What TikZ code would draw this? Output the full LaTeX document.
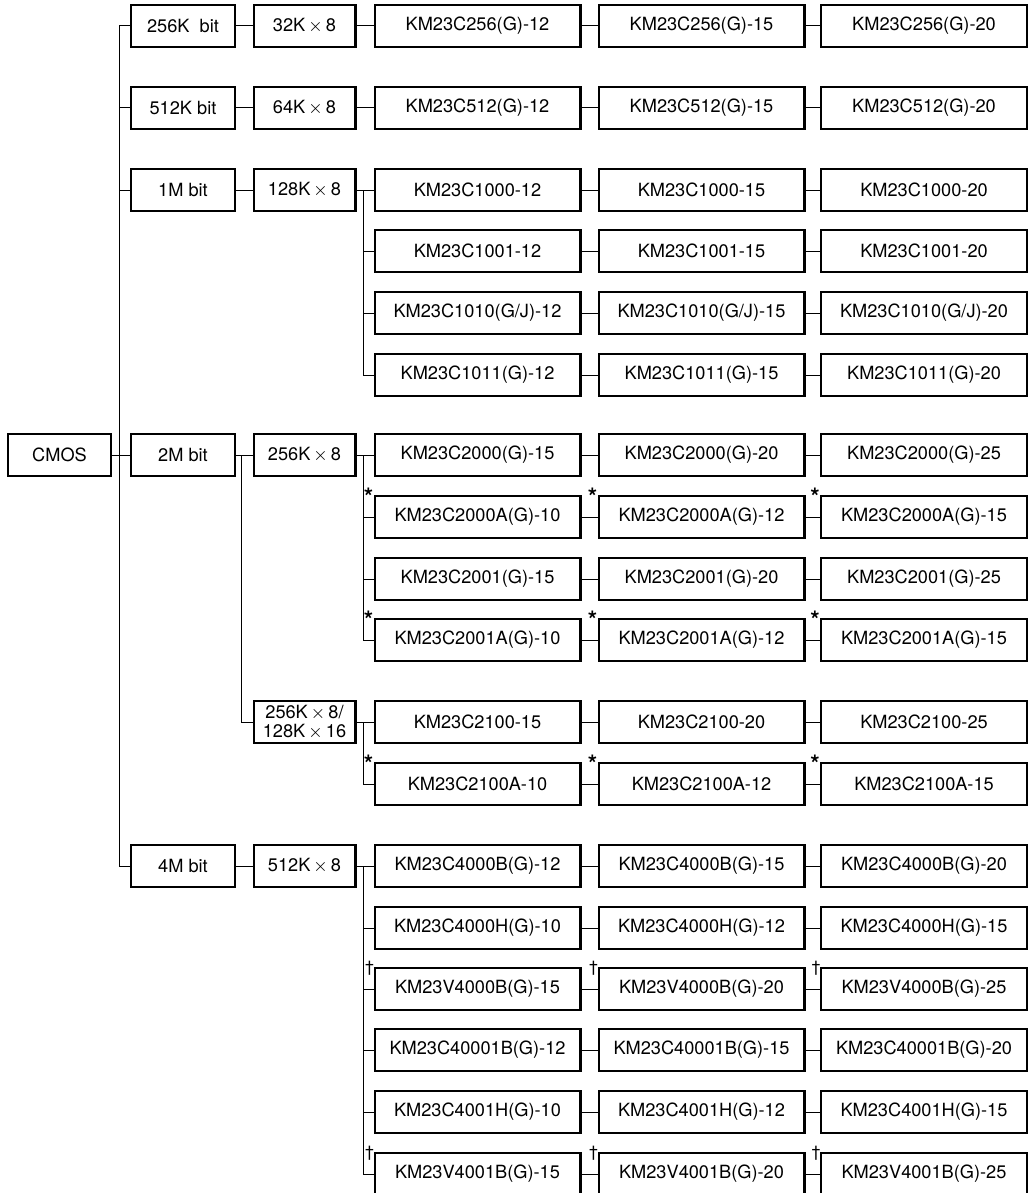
\documentclass[tikz,border=0pt]{standalone}
\usepackage{fontspec}
\setmainfont{TeX Gyre Heros}
\usepackage{tikz}

\tikzset{
  box/.style={draw, line width=1.2pt, inner sep=0pt, minimum height=20.8pt,
              font=\fontsize{9.1}{8}\selectfont, align=center},
  top/.style={box, minimum width=51.3pt},
  dens/.style={box, minimum width=51.8pt},
  org/.style={box, minimum width=50.8pt},
  part/.style={box, minimum width=102.8pt},
  note/.style={anchor=base, inner sep=0pt, font=\fontsize{8}{8}\selectfont},
  wire/.style={line width=0.5pt}
}
\newcommand{\by}{$\,\times\,$}

\begin{document}
\begin{tikzpicture}[x=0.5pt, y=-0.5pt]

\useasboundingbox (0,0) rectangle (1030,1193);

\node[top]  (cmos) at (59.5,455) {CMOS};

\node[dens] (d1) at (183,26)  {256K~~bit};
\node[dens] (d2) at (183,108) {512K bit};
\node[dens] (d3) at (183,190) {1M bit};
\node[dens] (d4) at (183,455) {2M bit};
\node[dens] (d5) at (183,866) {4M bit};

\node[org] (o1) at (304.5,26)  {32K\by8};
\node[org] (o2) at (304.5,108) {64K\by8};
\node[org] (o3) at (304.5,190) {128K\by8};
\node[org] (o4) at (304.5,455) {256K\by8};
\node[org, font=\fontsize{9.1}{9.6}\selectfont] (o5) at (304.5,722) {256K\by8/\\128K\by16};
\node[org] (o6) at (304.5,866) {512K\by8};

% -------- parts -----------
\node[part] (r1a) at (477.5,26) {KM23C256(G)-12};
\node[part] (r1b) at (701.5,26) {KM23C256(G)-15};
\node[part] (r1c) at (924,26)   {KM23C256(G)-20};

\node[part] (r2a) at (477.5,108) {KM23C512(G)-12};
\node[part] (r2b) at (701.5,108) {KM23C512(G)-15};
\node[part] (r2c) at (924,108)   {KM23C512(G)-20};

\node[part] (r3a) at (477.5,190) {KM23C1000-12};
\node[part] (r3b) at (701.5,190) {KM23C1000-15};
\node[part] (r3c) at (924,190)   {KM23C1000-20};

\node[part] (r4a) at (477.5,251) {KM23C1001-12};
\node[part] (r4b) at (701.5,251) {KM23C1001-15};
\node[part] (r4c) at (924,251)   {KM23C1001-20};

\node[part] (r5a) at (477.5,313) {KM23C1010(G/J)-12};
\node[part] (r5b) at (701.5,313) {KM23C1010(G/J)-15};
\node[part] (r5c) at (924,313)   {KM23C1010(G/J)-20};

\node[part] (r6a) at (477.5,375) {KM23C1011(G)-12};
\node[part] (r6b) at (701.5,375) {KM23C1011(G)-15};
\node[part] (r6c) at (924,375)   {KM23C1011(G)-20};

\node[part] (r7a) at (477.5,455) {KM23C2000(G)-15};
\node[part] (r7b) at (701.5,455) {KM23C2000(G)-20};
\node[part] (r7c) at (924,455)   {KM23C2000(G)-25};

\node[part] (r8a) at (477.5,517) {KM23C2000A(G)-10};
\node[part] (r8b) at (701.5,517) {KM23C2000A(G)-12};
\node[part] (r8c) at (924,517)   {KM23C2000A(G)-15};

\node[part] (r9a) at (477.5,579) {KM23C2001(G)-15};
\node[part] (r9b) at (701.5,579) {KM23C2001(G)-20};
\node[part] (r9c) at (924,579)   {KM23C2001(G)-25};

\node[part] (r10a) at (477.5,640) {KM23C2001A(G)-10};
\node[part] (r10b) at (701.5,640) {KM23C2001A(G)-12};
\node[part] (r10c) at (924,640)   {KM23C2001A(G)-15};

\node[part] (r11a) at (477.5,722) {KM23C2100-15};
\node[part] (r11b) at (701.5,722) {KM23C2100-20};
\node[part] (r11c) at (924,722)   {KM23C2100-25};

\node[part] (r12a) at (477.5,784) {KM23C2100A-10};
\node[part] (r12b) at (701.5,784) {KM23C2100A-12};
\node[part] (r12c) at (924,784)   {KM23C2100A-15};

\node[part] (r13a) at (477.5,866) {KM23C4000B(G)-12};
\node[part] (r13b) at (701.5,866) {KM23C4000B(G)-15};
\node[part] (r13c) at (924,866)   {KM23C4000B(G)-20};

\node[part] (r14a) at (477.5,928) {KM23C4000H(G)-10};
\node[part] (r14b) at (701.5,928) {KM23C4000H(G)-12};
\node[part] (r14c) at (924,928)   {KM23C4000H(G)-15};

\node[part] (r15a) at (477.5,989) {KM23V4000B(G)-15};
\node[part] (r15b) at (701.5,989) {KM23V4000B(G)-20};
\node[part] (r15c) at (924,989)   {KM23V4000B(G)-25};

\node[part] (r16a) at (477.5,1050) {KM23C40001B(G)-12};
\node[part] (r16b) at (701.5,1050) {KM23C40001B(G)-15};
\node[part] (r16c) at (924,1050)   {KM23C40001B(G)-20};

\node[part] (r17a) at (477.5,1112) {KM23C4001H(G)-10};
\node[part] (r17b) at (701.5,1112) {KM23C4001H(G)-12};
\node[part] (r17c) at (924,1112)   {KM23C4001H(G)-15};

\node[part] (r18a) at (477.5,1174) {KM23V4001B(G)-15};
\node[part] (r18b) at (701.5,1174) {KM23V4001B(G)-20};
\node[part] (r18c) at (924,1174)   {KM23V4001B(G)-25};

% -------- marks -----------
\tikzset{star/.style={note, font=\fontsize{12}{12}\bfseries}}
\node[star] (s8a)  at ([shift={(-5,10)}]r8a.north west)  {*};
\node[star] (s8b)  at ([shift={(-5,10)}]r8b.north west)  {*};
\node[star] (s8c)  at ([shift={(-5,10)}]r8c.north west)  {*};
\node[star] (s10a) at ([shift={(-5,10)}]r10a.north west) {*};
\node[star] (s10b) at ([shift={(-5,10)}]r10b.north west) {*};
\node[star] (s10c) at ([shift={(-5,10)}]r10c.north west) {*};
\node[star] (s12a) at ([shift={(-5,10)}]r12a.north west) {*};
\node[star] (s12b) at ([shift={(-5,10)}]r12b.north west) {*};
\node[star] (s12c) at ([shift={(-5,10)}]r12c.north west) {*};
\node[note] (t15a) at ([shift={(-4,5)}]r15a.north west) {†};
\node[note] (t15b) at ([shift={(-4,5)}]r15b.north west) {†};
\node[note] (t15c) at ([shift={(-4,5)}]r15c.north west) {†};
\node[note] (t18a) at ([shift={(-4,5)}]r18a.north west) {†};
\node[note] (t18b) at ([shift={(-4,5)}]r18b.north west) {†};
\node[note] (t18c) at ([shift={(-4,5)}]r18c.north west) {†};

% -------- tree lines -----------
\coordinate (trunk) at (119,455);
\coordinate (j2m) at (241,455);
\coordinate (j3) at (363,190);
\coordinate (j4) at (363,455);
\coordinate (j5) at (363,722);
\coordinate (j6) at (363,866);

\draw[wire] (cmos) -- (d4);
\draw[wire] (trunk) |- (d1);
\draw[wire] (trunk) |- (d2);
\draw[wire] (trunk) |- (d3);
\draw[wire] (trunk) |- (d5);

\draw[wire] (d1) -- (o1);
\draw[wire] (d2) -- (o2);
\draw[wire] (d3) -- (o3);
\draw[wire] (d4) -- (o4);
\draw[wire] (d5) -- (o6);
\draw[wire] (j2m) |- (o5);

\draw[wire] (o1) -- (r1a);
\draw[wire] (o2) -- (r2a);
\draw[wire] (o3) -- (r3a);
\draw[wire] (o4) -- (r7a);
\draw[wire] (o5) -- (r11a);
\draw[wire] (o6) -- (r13a);

\draw[wire] (j3) |- (r4a);
\draw[wire] (j3) |- (r5a);
\draw[wire] (j3) |- (r6a);
\draw[wire] (j4) |- (r8a);
\draw[wire] (j4) |- (r9a);
\draw[wire] (j4) |- (r10a);
\draw[wire] (j5) |- (r12a);
\draw[wire] (j6) |- (r14a);
\draw[wire] (j6) |- (r15a);
\draw[wire] (j6) |- (r16a);
\draw[wire] (j6) |- (r17a);
\draw[wire] (j6) |- (r18a);

\draw[wire] (r1a) -- (r1b) (r1b) -- (r1c);
\draw[wire] (r2a) -- (r2b) (r2b) -- (r2c);
\draw[wire] (r3a) -- (r3b) (r3b) -- (r3c);
\draw[wire] (r4a) -- (r4b) (r4b) -- (r4c);
\draw[wire] (r5a) -- (r5b) (r5b) -- (r5c);
\draw[wire] (r6a) -- (r6b) (r6b) -- (r6c);
\draw[wire] (r7a) -- (r7b) (r7b) -- (r7c);
\draw[wire] (r8a) -- (r8b) (r8b) -- (r8c);
\draw[wire] (r9a) -- (r9b) (r9b) -- (r9c);
\draw[wire] (r10a) -- (r10b) (r10b) -- (r10c);
\draw[wire] (r11a) -- (r11b) (r11b) -- (r11c);
\draw[wire] (r12a) -- (r12b) (r12b) -- (r12c);
\draw[wire] (r13a) -- (r13b) (r13b) -- (r13c);
\draw[wire] (r14a) -- (r14b) (r14b) -- (r14c);
\draw[wire] (r15a) -- (r15b) (r15b) -- (r15c);
\draw[wire] (r16a) -- (r16b) (r16b) -- (r16c);
\draw[wire] (r17a) -- (r17b) (r17b) -- (r17c);
\draw[wire] (r18a) -- (r18b) (r18b) -- (r18c);

\end{tikzpicture}
\end{document}
